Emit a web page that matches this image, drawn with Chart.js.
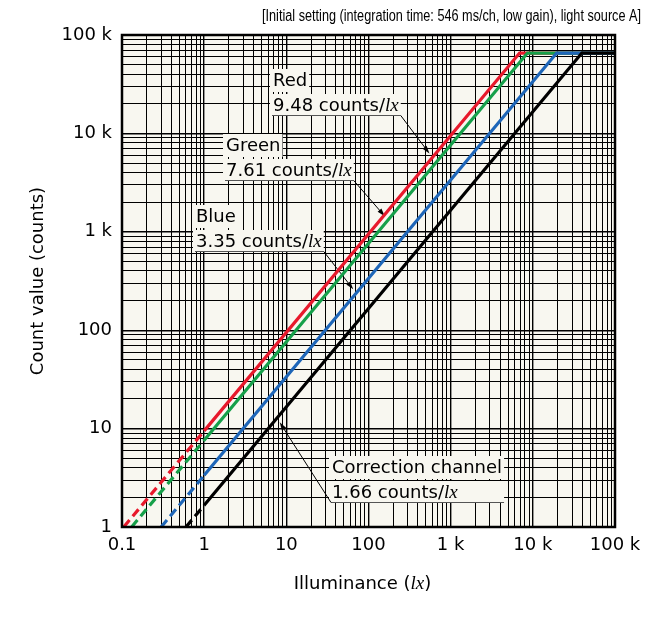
<!DOCTYPE html>
<html>
<head>
<meta charset="utf-8">
<script src="https://cdn.jsdelivr.net/npm/chart.js@4.4.1/dist/chart.umd.min.js"></script>
<style>
    html, body { margin: 0; padding: 0; background: #ffffff; }
    #board { width: 654px; height: 623px; }
</style>
</head>
<body>
<div id="board"><canvas id="chart" width="654" height="623"></canvas></div>
<script>
// values (illuminance in lx, count value in counts)
var seriesNames = ['Red', 'Green', 'Blue', 'Correction channel'];
var sensitivity = [9.48, 7.61, 3.35, 1.66];   // counts/lx, as printed

var redX = [0.105, 1, 6900, 100000];
var redY = [1, 9.48, 65535, 65535];
var greenX = [0.131, 1, 8600, 100000];
var greenY = [1, 7.61, 65535, 65535];
var blueX = [0.30, 1, 19500, 100000];
var blueY = [1, 3.35, 65535, 65535];
var corrX = [0.60, 1, 39500, 100000];
var corrY = [1, 1.66, 65535, 65535];

var xMajors = [0.1, 1, 10, 100, 1000, 10000, 100000];
var xTickLabels = ['0.1', '1', '10', '100', '1 k', '10 k', '100 k'];
var yMajors = [1, 10, 100, 1000, 10000, 100000];
var yTickLabels = ['1', '10', '100', '1 k', '10 k', '100 k'];

var titleText = '[Initial setting (integration time: 546 ms/ch, low gain), light source A]';
var yTitle = 'Count value (counts)';
var xTitle = 'Illuminance (';

// where the leader arrows touch each line (illuminance value)
var noteTipX = [600, 173, 71, 7.7];

var colors = ['#e8192c', '#16a04a', '#1e66b8', '#000000'];
var paper = '#f8f7f0';

function gridValues(majors) {
    var out = [];
    for (var i = 0; i < majors.length; i++) {
        out.push(majors[i]);
        if (i == majors.length - 1) break;
        for (var m = 2; m <= 9; m++) out.push(+(majors[i] * m).toPrecision(6));
    }
    return out;
}

function majorIndex(majors, v) {
    for (var i = 0; i < majors.length; i++) {
        if (Math.abs(v / majors[i] - 1) < 1e-6) return i;
    }
    return -1;
}

function pts(xs, ys) {
    return xs.map(function (x, i) { return { x: x, y: ys[i] }; });
}

function dashBelowOne(c) {
    return c.p0.parsed.x < 1 ? [9, 5] : undefined;
}

function makeSet(i, xs, ys, order) {
    return {
        label: seriesNames[i],
        data: pts(xs, ys),
        borderColor: colors[i],
        backgroundColor: colors[i],
        borderWidth: 3.2,
        pointRadius: 0,
        tension: 0,
        order: order,
        segment: { borderDash: dashBelowOne }
    };
}

// text with the italic unit "lx"
function drawMixed(ctx, parts, x, y) {
    var cx = x;
    parts.forEach(function (p) {
        ctx.font = p.font;
        ctx.fillText(p.text, cx, y);
        cx += ctx.measureText(p.text).width;
    });
    return cx - x;
}

function mixedWidth(ctx, parts) {
    var w = 0;
    parts.forEach(function (p) {
        ctx.font = p.font;
        w += ctx.measureText(p.text).width;
    });
    return w;
}

var sans = "18px 'DejaVu Sans'";
var unitFont = "italic 19px 'Liberation Serif'";

// label boxes: left edge of text and baseline of first line (px)
var noteLeft = [273, 226, 196, 332];
var noteBase = [86, 151, 222, 473];
var noteSide = ['right', 'right', 'right', 'left'];

const labelNotes = {
    id: 'labelNotes',
    beforeDraw(chart) {
        const { ctx, chartArea: { left, top, width, height } } = chart;
        ctx.save();
        ctx.fillStyle = paper;
        ctx.fillRect(left, top, width, height);
        ctx.restore();
    },
    beforeDatasetsDraw(chart) {
        const { ctx, scales: { x, y } } = chart;
        ctx.save();
        ctx.textBaseline = 'alphabetic';
        ctx.textAlign = 'left';
        for (var i = 0; i < seriesNames.length; i++) {
            var l1 = [{ text: seriesNames[i], font: sans }];
            var l2 = [{ text: sensitivity[i].toFixed(2) + ' counts/', font: sans }, { text: 'lx', font: unitFont }];
            var w1 = mixedWidth(ctx, l1);
            var w2 = mixedWidth(ctx, l2);
            var wMax = Math.max(w1, w2);
            var x0 = noteLeft[i], b1 = noteBase[i], b2 = b1 + 25;

            ctx.fillStyle = paper;
            ctx.fillRect(x0 - 3, b1 - 17, w1 + 5, 23);
            ctx.fillRect(x0 - 3, b2 - 17, wMax + 5, 21.5);

            ctx.fillStyle = '#000';
            drawMixed(ctx, l1, x0, b1);
            drawMixed(ctx, l2, x0, b2);

            var uy = b2 + 4.5;
            var ux0 = x0 - 1, ux1 = x0 + wMax + 2;
            ctx.strokeStyle = '#555';
            ctx.lineWidth = 1;
            ctx.beginPath();
            ctx.moveTo(ux0, uy);
            ctx.lineTo(ux1, uy);
            ctx.stroke();

            // leader with arrowhead
            var sx = noteSide[i] == 'right' ? ux1 : ux0;
            var tx = x.getPixelForValue(noteTipX[i]);
            var ty = y.getPixelForValue(noteTipX[i] * sensitivity[i]);
            var dx = tx - sx, dy = ty - uy;
            var len = Math.sqrt(dx * dx + dy * dy);
            var ux = dx / len, vy = dy / len;
            var ex = tx - ux * 5, ey = ty - vy * 5;
            ctx.strokeStyle = '#000';
            ctx.beginPath();
            ctx.moveTo(sx, uy);
            ctx.lineTo(ex - ux * 6, ey - vy * 6);
            ctx.stroke();
            ctx.fillStyle = '#000';
            ctx.beginPath();
            ctx.moveTo(ex, ey);
            ctx.lineTo(ex - ux * 8 - vy * 2.5, ey - vy * 8 + ux * 2.5);
            ctx.lineTo(ex - ux * 8 + vy * 2.5, ey - vy * 8 - ux * 2.5);
            ctx.closePath();
            ctx.fill();
        }
        ctx.restore();
    },
    afterDraw(chart) {
        const { ctx, chartArea: { left, top, right, bottom, width, height } } = chart;
        ctx.save();
        ctx.strokeStyle = '#000';
        ctx.lineWidth = 2.5;
        ctx.strokeRect(left, top, width, height);

        ctx.fillStyle = '#000';
        // top caption, squeezed like the narrow face in the original
        ctx.font = "16px 'Liberation Sans'";
        ctx.textAlign = 'left';
        ctx.textBaseline = 'middle';
        var tw = ctx.measureText(titleText).width;
        ctx.save();
        ctx.translate(262, 17);
        ctx.scale(379 / tw, 1);
        ctx.fillText(titleText, 0, 0);
        ctx.restore();

        // y axis title
        ctx.font = sans;
        ctx.textAlign = 'center';
        ctx.save();
        ctx.translate(38, (top + bottom) / 2);
        ctx.rotate(-Math.PI / 2);
        ctx.fillText(yTitle, 0, 0);
        ctx.restore();

        // x axis title with italic unit
        ctx.textAlign = 'left';
        ctx.textBaseline = 'alphabetic';
        var parts = [{ text: xTitle, font: sans }, { text: 'lx', font: unitFont }, { text: ')', font: sans }];
        var w = mixedWidth(ctx, parts);
        drawMixed(ctx, parts, (left + right) / 2 - 6 - w / 2, 589);
        ctx.restore();
    }
};

const ctx = document.getElementById('chart').getContext('2d');
window.myChart = new Chart(ctx, {
    type: 'line',
    data: {
        datasets: [
            makeSet(0, redX, redY, 4),
            makeSet(1, greenX, greenY, 3),
            makeSet(2, blueX, blueY, 2),
            makeSet(3, corrX, corrY, 1)
        ]
    },
    options: {
        responsive: false,
        animation: false,
        devicePixelRatio: 1,
        layout: { padding: { top: 35, right: 39, bottom: 0, left: 0 } },
        plugins: {
            legend: { display: false },
            title: { display: false },
            tooltip: { enabled: false }
        },
        scales: {
            x: {
                type: 'logarithmic',
                min: 0.1,
                max: 100000,
                afterBuildTicks: function (s) {
                    s.ticks = gridValues(xMajors).map(function (v) { return { value: v }; });
                },
                afterFit: function (s) { s.height = 96; },
                ticks: {
                    autoSkip: false,
                    maxRotation: 0,
                    padding: 8,
                    color: '#000',
                    font: { family: 'DejaVu Sans', size: 18 },
                    callback: function (v) {
                        var k = majorIndex(xMajors, v);
                        return k < 0 ? '' : xTickLabels[k];
                    }
                },
                grid: {
                    color: '#000',
                    drawTicks: false,
                    lineWidth: function (c) {
                        return c.tick && majorIndex(xMajors, c.tick.value) >= 0 ? 1.4 : 1;
                    }
                },
                border: { display: false }
            },
            y: {
                type: 'logarithmic',
                min: 1,
                max: 100000,
                afterBuildTicks: function (s) {
                    s.ticks = gridValues(yMajors).map(function (v) { return { value: v }; });
                },
                afterFit: function (s) { s.width = 122; },
                ticks: {
                    autoSkip: false,
                    padding: 10,
                    color: '#000',
                    font: { family: 'DejaVu Sans', size: 18 },
                    callback: function (v) {
                        var k = majorIndex(yMajors, v);
                        return k < 0 ? '' : yTickLabels[k];
                    }
                },
                grid: {
                    color: '#000',
                    drawTicks: false,
                    lineWidth: function (c) {
                        return c.tick && majorIndex(yMajors, c.tick.value) >= 0 ? 1.4 : 1;
                    }
                },
                border: { display: false }
            }
        }
    },
    plugins: [labelNotes]
});
</script>
</body>
</html>
